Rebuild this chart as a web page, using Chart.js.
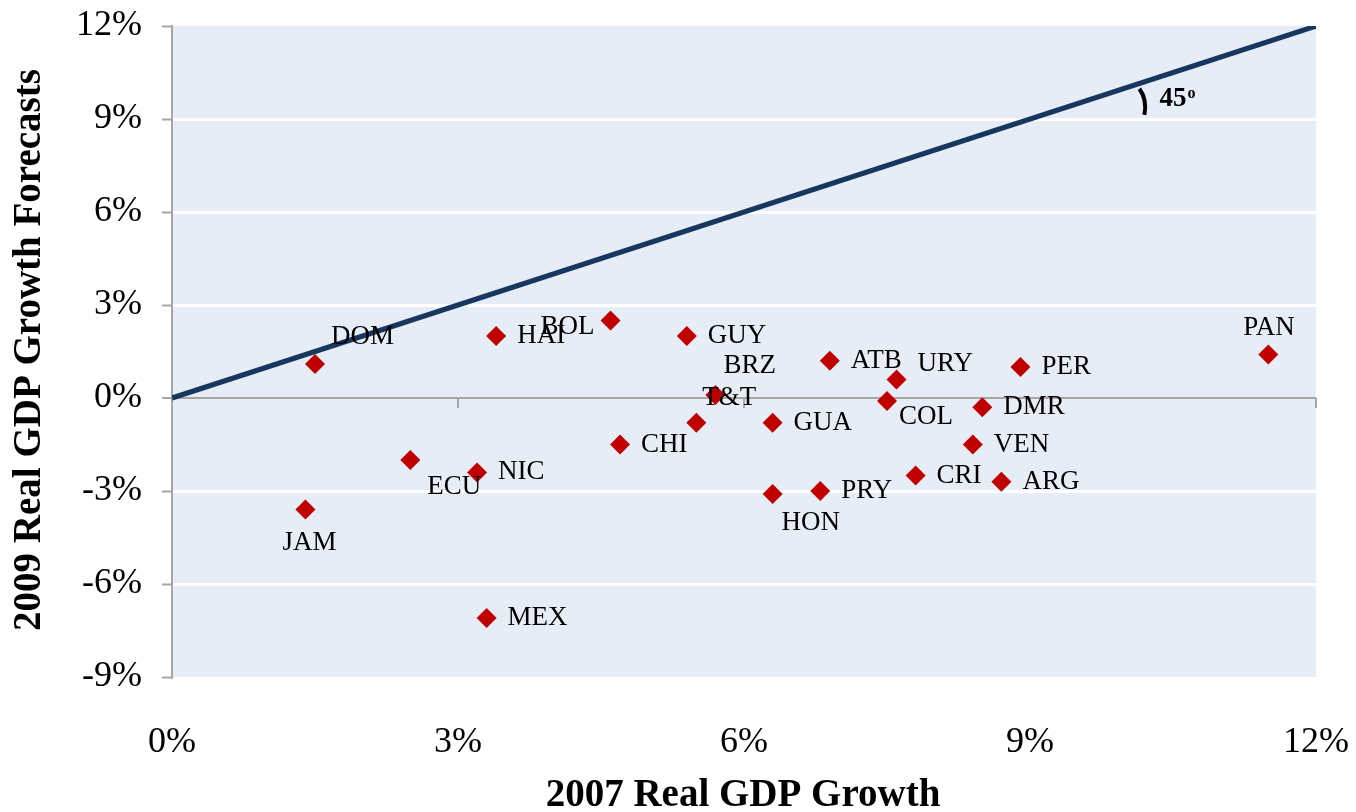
<!DOCTYPE html>
<html lang="en">
<head>
  <meta charset="UTF-8" />
  <title>2007 growth vs 2009 forecasts</title>
  <script src="https://cdn.jsdelivr.net/npm/chart.js"></script>
  <style>
    body {
      margin: 0;
      background: #fff;
    }
    #wrap {
      width: 1356px;
      height: 812px;
    }
  </style>
</head>
<body>
  <div id="wrap">
    <canvas id="scatter" width="1356" height="812"></canvas>
  </div>

  <script>
    // data
    const countries = ["DOM", "HAI", "BOL", "GUY", "BRZ", "T&T", "ATB", "URY", "PER", "PAN", "COL", "DMR",
                       "GUA", "CHI", "VEN", "CRI", "ARG", "ECU", "NIC", "PRY", "HON", "JAM", "MEX"];
    const growth2007 = [1.5, 3.4, 4.6, 5.4, 5.7, 5.5, 6.9, 7.6, 8.9, 11.5, 7.5, 8.5,
                        6.3, 4.7, 8.4, 7.8, 8.7, 2.5, 3.2, 6.8, 6.3, 1.4, 3.3];
    const forecast2009 = [1.1, 2.0, 2.5, 2.0, 0.1, -0.8, 1.2, 0.6, 1.0, 1.4, -0.1, -0.3,
                          -0.8, -1.5, -1.5, -2.5, -2.7, -2.0, -2.4, -3.0, -3.1, -3.6, -7.1];
    const diagonal = [0, 12];   // 45 degree line end points (x = y)
    const xTicks = [0, 3, 6, 9, 12];
    const yTicks = [-9, -6, -3, 0, 3, 6, 9, 12];

    // label placement (px from the marker, text left aligned); default is to the right
    const labelShift = {
      "DOM": [16, -27], "BOL": [-70, 6], "BRZ": [8, -29], "T&T": [6, -25],
      "URY": [21, -15], "COL": [12, 16], "HON": [9, 29], "ECU": [17, 27],
      "JAM": [-23, 33], "PAN": [-25, -27]
    };

    const serif = "'Liberation Serif', 'Times New Roman', serif";
    const grey = "#A6A6A6";

    const points = countries.map((c, i) => ({ x: growth2007[i], y: forecast2009[i], name: c }));

    const plotBackground = {
      id: "plotBackground",
      beforeDraw(chart) {
        const { ctx, chartArea: a } = chart;
        ctx.save();
        ctx.fillStyle = "#E7EDF6";
        ctx.fillRect(a.left, a.top, a.right - a.left, a.bottom - a.top);
        ctx.restore();
      }
    };

    // tick marks hanging from the zero line
    const zeroAxisTicks = {
      id: "zeroAxisTicks",
      beforeDatasetsDraw(chart) {
        const { ctx, scales: { x, y } } = chart;
        const y0 = y.getPixelForValue(0);
        ctx.save();
        ctx.strokeStyle = grey;
        ctx.lineWidth = 2;
        xTicks.slice(1).forEach(v => {
          const px = x.getPixelForValue(v);
          ctx.beginPath();
          ctx.moveTo(px, y0);
          ctx.lineTo(px, y0 + 10);
          ctx.stroke();
        });
        ctx.restore();
      }
    };

    const pointLabels = {
      id: "pointLabels",
      afterDatasetsDraw(chart) {
        const { ctx } = chart;
        const meta = chart.getDatasetMeta(1);
        ctx.save();
        ctx.font = "27px " + serif;
        ctx.fillStyle = "#000";
        ctx.textAlign = "left";
        ctx.textBaseline = "middle";
        meta.data.forEach((el, i) => {
          const name = countries[i];
          const s = labelShift[name] || [21, 0];
          ctx.fillText(name, el.x + s[0], el.y + s[1]);
        });
        ctx.restore();
      }
    };

    const extras = {
      id: "extras",
      afterDraw(chart) {
        const { ctx, scales: { x, y } } = chart;
        ctx.save();
        // 45 degree marker
        const px = x.getPixelForValue(10.2), py = y.getPixelForValue(10.2);
        ctx.strokeStyle = "#000";
        ctx.lineWidth = 4;
        ctx.beginPath();
        ctx.moveTo(px - 5, py + 7);
        ctx.quadraticCurveTo(px + 3, py + 18, px, py + 33);
        ctx.stroke();
        ctx.fillStyle = "#000";
        ctx.textBaseline = "middle";
        ctx.textAlign = "left";
        ctx.font = "bold 27px " + serif;
        ctx.fillText("45", px + 15, py + 17);
        const w = ctx.measureText("45").width;
        ctx.font = "bold 16px " + serif;
        ctx.fillText("o", px + 16 + w, py + 12);

        // axis titles
        ctx.font = "bold 39px " + serif;
        ctx.textAlign = "center";
        ctx.fillText("2007 Real GDP Growth", 743, 796);
        ctx.translate(30, 350);
        ctx.rotate(-Math.PI / 2);
        ctx.fillText("2009 Real GDP Growth Forecasts", 0, 0);
        ctx.restore();
      }
    };

    new Chart(document.getElementById("scatter"), {
      type: "scatter",
      data: {
        datasets: [
          {
            type: "line",
            data: diagonal.map(v => ({ x: v, y: v })),
            borderColor: "#17375E",
            borderWidth: 5,
            pointRadius: 0,
            fill: false
          },
          {
            data: points,
            pointStyle: "rectRot",
            pointRadius: 10,
            pointHoverRadius: 10,
            backgroundColor: "#C00000",
            borderColor: "#C00000",
            borderWidth: 0
          }
        ]
      },
      options: {
        responsive: false,
        animation: false,
        layout: { padding: { left: 0, right: 40, top: 26, bottom: 0 } },
        plugins: {
          legend: { display: false },
          tooltip: { enabled: false }
        },
        scales: {
          x: {
            type: "linear",
            min: xTicks[0],
            max: xTicks[xTicks.length - 1],
            afterFit(s) { s.height = 135; s.paddingLeft = 0; s.paddingRight = 0; },
            afterBuildTicks(s) { s.ticks = xTicks.map(v => ({ value: v })); },
            grid: { display: false, drawTicks: false },
            border: { display: false },
            ticks: {
              padding: 44,
              color: "#000",
              font: { family: serif, size: 36 },
              callback: v => v + "%"
            }
          },
          y: {
            type: "linear",
            min: yTicks[0],
            max: yTicks[yTicks.length - 1],
            afterFit(s) { s.width = 172; s.paddingTop = 0; s.paddingBottom = 0; },
            afterBuildTicks(s) { s.ticks = yTicks.map(v => ({ value: v })); },
            grid: {
              color: c => {
                const v = c.tick && c.tick.value;
                if (v === 0) return grey;
                if (v === yTicks[0] || v === yTicks[yTicks.length - 1]) return "rgba(0,0,0,0)";
                return "#FFFFFF";
              },
              lineWidth: c => (c.tick && c.tick.value === 0 ? 2 : 3),
              tickColor: grey,
              tickWidth: 2,
              tickLength: 10
            },
            border: { display: true, color: grey, width: 2 },
            ticks: {
              padding: 20,
              color: "#000",
              font: { family: serif, size: 36 },
              callback: v => v + "%"
            }
          }
        }
      },
      plugins: [plotBackground, zeroAxisTicks, pointLabels, extras]
    });
  </script>
</body>
</html>
